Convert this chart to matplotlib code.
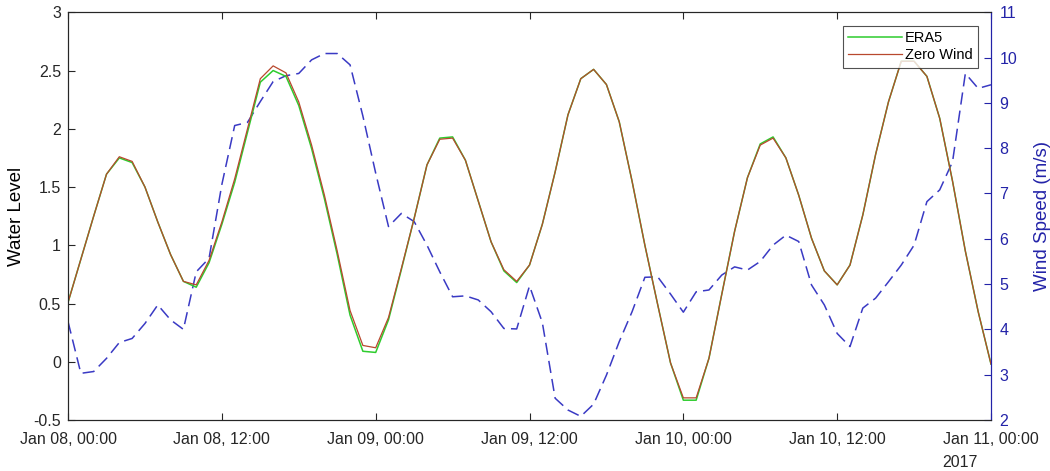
import pandas as pd
import matplotlib.pyplot as plt
import matplotlib.dates as mdates

plt.rcParams['font.family'] = ['Liberation Sans', 'DejaVu Sans']

# hourly values, Jan 08 00:00 -> Jan 11 00:00 (2017)
start_time = '2017-01-08 00:00'
n_hours = 73

zero_wind = [0.51, 0.88, 1.25, 1.61, 1.76, 1.72, 1.50, 1.20, 0.92, 0.69,
             0.66, 0.87, 1.20, 1.57, 2.00, 2.43, 2.54, 2.48, 2.23, 1.86,
             1.43, 0.95, 0.44, 0.14, 0.12, 0.38, 0.80, 1.23, 1.69, 1.91,
             1.92, 1.73, 1.38, 1.03, 0.79, 0.69, 0.83, 1.18, 1.63, 2.12,
             2.43, 2.51, 2.38, 2.06, 1.55, 1.00, 0.49, -0.01, -0.31, -0.31,
             0.03, 0.58, 1.12, 1.58, 1.86, 1.92, 1.75, 1.43, 1.06, 0.78,
             0.66, 0.83, 1.26, 1.78, 2.23, 2.58, 2.58, 2.45, 2.09, 1.55,
             0.95, 0.43, -0.02]

era5 = [0.51, 0.88, 1.25, 1.61, 1.75, 1.71, 1.50, 1.20, 0.92, 0.69,
        0.64, 0.85, 1.18, 1.54, 1.97, 2.40, 2.50, 2.45, 2.20, 1.83,
        1.40, 0.92, 0.40, 0.09, 0.08, 0.36, 0.79, 1.23, 1.69, 1.92,
        1.93, 1.73, 1.38, 1.03, 0.78, 0.68, 0.83, 1.18, 1.63, 2.12,
        2.43, 2.51, 2.38, 2.06, 1.55, 1.00, 0.49, -0.01, -0.33, -0.33,
        0.03, 0.58, 1.12, 1.58, 1.87, 1.93, 1.75, 1.43, 1.06, 0.78,
        0.66, 0.83, 1.26, 1.78, 2.23, 2.58, 2.58, 2.45, 2.09, 1.55,
        0.95, 0.43, -0.02]

wind_speed = [4.17, 3.03, 3.07, 3.36, 3.71, 3.80, 4.13, 4.54, 4.21, 4.00,
              5.27, 5.57, 7.20, 8.50, 8.57, 9.03, 9.47, 9.60, 9.65, 9.95,
              10.09, 10.09, 9.84, 8.71, 7.45, 6.27, 6.56, 6.38, 5.86, 5.27,
              4.72, 4.74, 4.65, 4.39, 4.02, 4.01, 4.96, 4.15, 2.48, 2.22,
              2.08, 2.35, 2.99, 3.73, 4.39, 5.15, 5.16, 4.78, 4.38, 4.83,
              4.87, 5.20, 5.38, 5.31, 5.50, 5.86, 6.08, 5.94, 4.98, 4.54,
              3.91, 3.62, 4.47, 4.69, 5.05, 5.42, 5.86, 6.82, 7.08, 7.70,
              9.65, 9.32, 9.40]

left_ticks = [-0.5, 0, 0.5, 1, 1.5, 2, 2.5, 3]
left_ticklabels = ['-0.5', '0', '0.5', '1', '1.5', '2', '2.5', '3']
right_ticks = [2, 3, 4, 5, 6, 7, 8, 9, 10, 11]

times = pd.date_range(start_time, periods=n_hours, freq='h')

axis_gray = '#262626'
wind_blue = '#2323a8'

fig = plt.figure(figsize=(10.5, 4.71), dpi=100)
ax = fig.add_axes([0.0648, 0.1083, 0.8790, 0.8656])
ax2 = ax.twinx()

ax.plot(times, era5, color='#2ecc2e', lw=1.1, label='ERA5')
ax.plot(times, zero_wind, color='#b8482e', lw=0.9, label='Zero Wind')
ax2.plot(times, wind_speed, color='#3a3ac4', lw=1.1, linestyle=(0, (8, 4)))

ax.set_xlim(times[0], times[-1])
ax.set_ylim(-0.5, 3)
ax.set_yticks(left_ticks)
ax.set_yticklabels(left_ticklabels)
ax2.set_ylim(2, 11)
ax2.set_yticks(right_ticks)

ax.xaxis.set_major_locator(mdates.HourLocator(byhour=[0, 12]))
ax.xaxis.set_major_formatter(mdates.DateFormatter('%b %d, %H:%M'))

ax.tick_params(axis='both', direction='in', length=5, labelsize=11.5,
               colors=axis_gray, top=True)
ax.tick_params(axis='x', pad=9)
ax.tick_params(axis='y', right=False, pad=5)
ax2.tick_params(axis='y', direction='in', length=5, labelsize=11.5,
                colors=wind_blue, pad=6)

for s in ['left', 'top', 'bottom']:
    ax.spines[s].set_color(axis_gray)
    ax2.spines[s].set_color(axis_gray)
ax2.spines['right'].set_color(wind_blue)
ax.spines['right'].set_color(wind_blue)

ax.set_ylabel('Water Level', fontsize=13.5, color='black', labelpad=6)
ax2.set_ylabel('Wind Speed (m/s)', fontsize=13.5, color=wind_blue, labelpad=12)

leg = ax.legend(loc='upper right', bbox_to_anchor=(0.986, 0.967), fontsize=10.5,
                frameon=True, fancybox=False, handlelength=3.7,
                borderpad=0.35, labelspacing=0.25, handletextpad=0.2,
                borderaxespad=0)
leg.get_frame().set_edgecolor(axis_gray)
leg.get_frame().set_linewidth(0.8)
leg.set_zorder(10)
ax.set_zorder(ax2.get_zorder() + 1)
ax.patch.set_visible(False)

fig.text(0.897, 0.008, '2017', fontsize=11.5, color=axis_gray)

plt.savefig('out.png', dpi=100)
